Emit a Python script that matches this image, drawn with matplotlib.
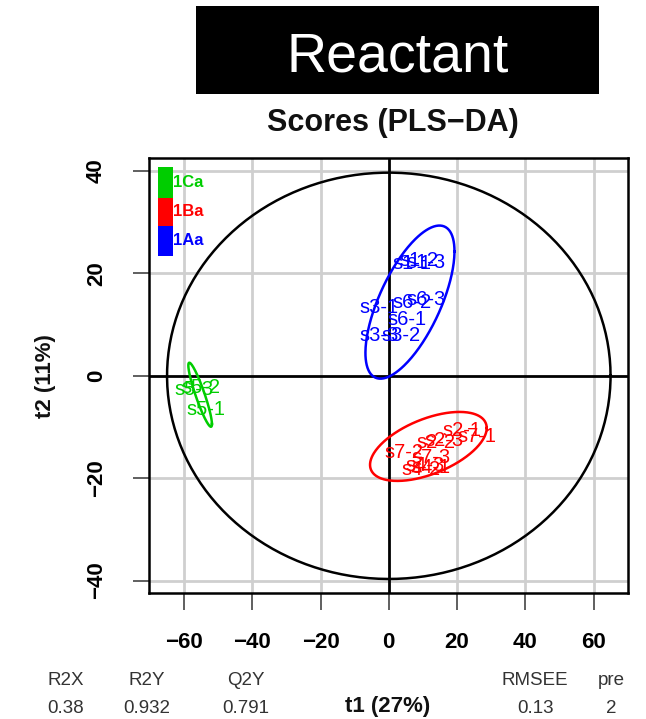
import numpy as np
import matplotlib
matplotlib.use("Agg")
import matplotlib.pyplot as plt
from matplotlib.patches import Rectangle

plt.rcParams['font.family'] = ['Liberation Sans', 'DejaVu Sans']

# ---------------- data ----------------
classes = ["1Ca", "1Ba", "1Aa"]
class_colors = ["#00CD00", "#FF0000", "#0000FF"]

# sample labels and score coordinates (t1, t2) per class
labels_Ca = ["s5-3", "s5-2", "s5-1"]
t1_Ca = [-57.0, -55.0, -53.7]
t2_Ca = [-2.6, -2.3, -6.5]

labels_Ba = ["s2-1", "s2-2", "s2-3", "s7-1", "s7-2", "s7-3", "s4-1", "s4-2", "s4-3"]
t1_Ba = [21.3, 13.9, 16.3, 25.7, 4.5, 12.5, 12.5, 9.5, 10.5]
t2_Ba = [-10.7, -13.0, -12.6, -11.8, -15.0, -16.0, -18.0, -18.3, -17.5]

labels_Aa = ["s1-1", "s1-2", "s1-3", "s3-1", "s6-2", "s6-3", "s6-1", "s3-3", "s3-2"]
t1_Aa = [6.9, 8.9, 10.9, -2.8, 6.9, 11.0, 5.4, -2.8, 3.7]
t2_Aa = [22.0, 22.6, 22.2, 13.4, 14.3, 15.0, 11.0, 7.8, 7.8]

# class ellipses: centre, half extents along t1 / t2, correlation
ell_cx = [-55.3, 11.6, 6.2]
ell_cy = [-3.7, -13.8, 14.4]
ell_hx = [3.46, 17.1, 13.05]
ell_hy = [6.26, 6.74, 14.96]
ell_rho = [-0.914, 0.533, 0.663]

# Hotelling T2 ellipse (all samples)
hot_hx = 65.0
hot_hy = 39.7

xticks = [-60, -40, -20, 0, 20, 40, 60]
yticks = [-40, -20, 0, 20, 40]

metric_names = ["R2X", "R2Y", "Q2Y", "RMSEE", "pre"]
metric_values = ["0.38", "0.932", "0.791", "0.13", "2"]

# ---------------- figure ----------------
W, H = 646, 719
fig = plt.figure(figsize=(W / 100, H / 100), dpi=100)

def fx(px):
    return px / W

def fy(py):
    return 1 - py / H

ax = fig.add_axes([fx(149.3), fy(593.3), fx(628.3) - fx(149.3), fy(158.3) - fy(593.3)])
ax.set_xlim(-70.2, 70.2)
ax.set_ylim(-42.5, 42.5)

# grid
for xv in xticks:
    if xv != 0:
        ax.axvline(xv, color="#cfcfcf", lw=2.0, zorder=0)
for yv in yticks:
    if yv != 0:
        ax.axhline(yv, color="#cfcfcf", lw=2.0, zorder=0)
ax.axvline(0, color="black", lw=2.0, zorder=1)
ax.axhline(0, color="black", lw=2.0, zorder=1)

t = np.linspace(0, 2 * np.pi, 300)

# Hotelling ellipse
ax.plot(hot_hx * np.cos(t), hot_hy * np.sin(t), color="black", lw=1.8, zorder=2)

# class ellipses
for cx, cy, hx, hy, r, col in zip(ell_cx, ell_cy, ell_hx, ell_hy, ell_rho, class_colors):
    ex = cx + hx * np.cos(t)
    ey = cy + hy * (r * np.cos(t) + np.sqrt(1 - r * r) * np.sin(t))
    ax.plot(ex, ey, color=col, lw=1.8, zorder=3)

# sample labels
groups = [(labels_Ca, t1_Ca, t2_Ca), (labels_Ba, t1_Ba, t2_Ba), (labels_Aa, t1_Aa, t2_Aa)]
for (labs, xs, ys), col in zip(groups, class_colors):
    for lab, xv, yv in zip(labs, xs, ys):
        ax.text(xv, yv, lab, color=col, fontsize=14.5, ha="center", va="center", zorder=4)

# legend (colour bars)
legend_y = [(0.9094, 0.9807), (0.8444, 0.9094), (0.7754, 0.8444)]
for (y0, y1), col, lab in zip(legend_y, class_colors, classes):
    ax.add_patch(Rectangle((0.0188, y0), 0.0307, y1 - y0, transform=ax.transAxes,
                           facecolor=col, edgecolor="none", zorder=5))
    ax.text(0.0495, (y0 + y1) / 2, lab, transform=ax.transAxes, color=col,
            fontsize=12, fontweight="bold", ha="left", va="center", zorder=5)

# axes styling
for sp in ax.spines.values():
    sp.set_linewidth(1.8)
    sp.set_color("black")
ax.set_xticks(xticks)
ax.set_yticks(yticks)
ax.set_xticklabels([str(v).replace("-", "\u2212") for v in xticks])
ax.set_yticklabels([str(v).replace("-", "\u2212") for v in yticks])
ax.tick_params(axis="x", length=12, width=1.2, color="#444444", pad=16,
               labelsize=16)
ax.tick_params(axis="y", length=11.5, width=1.2, color="#444444", pad=19,
               labelsize=16, labelrotation=90)
for lab in ax.get_xticklabels() + ax.get_yticklabels():
    lab.set_fontweight("bold")
for lab in ax.get_yticklabels():
    lab.set_va("center")

# title box
fig.patches.append(Rectangle((fx(196), fy(94)), fx(599) - fx(196), fy(6) - fy(94),
                             transform=fig.transFigure, facecolor="black",
                             edgecolor="none"))
fig.text(fx(397.5), fy(72), "Reactant", color="white", fontsize=40,
         ha="center", va="baseline")
fig.text(fx(393), fy(131), "Scores (PLS\u2212DA)", color="#111111", fontsize=22,
         fontweight="bold", ha="center", va="baseline")

# axis titles
fig.text(fx(45), fy(376), "t2 (11%)", rotation=90, fontsize=16, fontweight="bold",
         ha="center", va="center", color="#111111")
fig.text(fx(388), fy(712), "t1 (27%)", fontsize=16, fontweight="bold",
         ha="center", va="baseline", color="#111111")

# metrics
metric_x = [66, 147, 246, 535, 611]
for name, val, mx in zip(metric_names, metric_values, metric_x):
    fig.text(fx(mx), fy(685), name, fontsize=13.5, ha="center", va="baseline",
             color="#333333")
    fig.text(fx(mx), fy(713), val, fontsize=13.5, ha="center", va="baseline",
             color="#333333")

fig.savefig("out.png", dpi=100)
